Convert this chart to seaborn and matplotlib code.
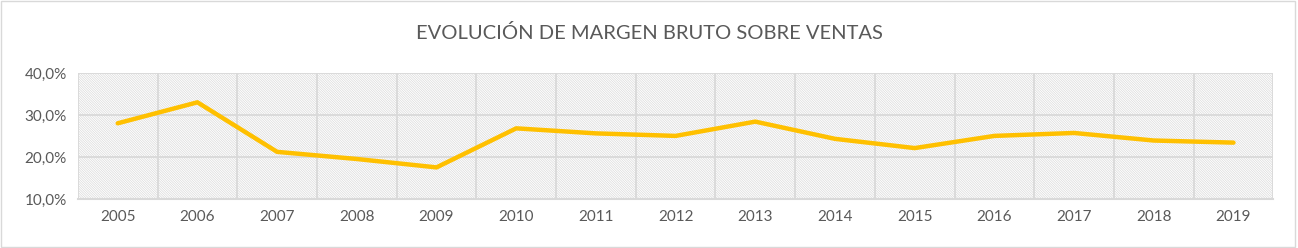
import matplotlib
matplotlib.use("Agg")
import matplotlib.pyplot as plt
import seaborn as sns
import pandas as pd
from matplotlib.patches import Rectangle
from matplotlib.ticker import FuncFormatter, FixedLocator

years = ["2005", "2006", "2007", "2008", "2009", "2010", "2011", "2012",
         "2013", "2014", "2015", "2016", "2017", "2018", "2019"]
margin = [28.0, 33.0, 21.2, 19.5, 17.5, 26.8, 25.6, 25.0,
          28.4, 24.3, 22.1, 25.0, 25.7, 23.9, 23.4]
title = "EVOLUCIÓN DE MARGEN BRUTO SOBRE VENTAS"

sns.set_theme(style="white")
plt.rcParams["font.family"] = ["Lato", "DejaVu Sans"]
plt.rcParams["hatch.linewidth"] = 0.5
plt.rcParams["hatch.color"] = "#dadada"

df = pd.DataFrame({"year": years, "margin": margin})

fig = plt.figure(figsize=(12.98, 2.48), dpi=100)
fig.patch.set_facecolor("white")
fig.patches.append(Rectangle((0.001, 0.004), 0.997, 0.992, transform=fig.transFigure,
                             fill=False, edgecolor="#d9d9d9", linewidth=1.0))
ax = fig.add_axes([0.060, 0.198, 0.921, 0.508])

ax.add_patch(Rectangle((0, 0), 1, 1, transform=ax.transAxes, facecolor="white",
                       edgecolor="#dadada", hatch="\\" * 14, linewidth=0, zorder=0))

sns.lineplot(data=df, x="year", y="margin", sort=False, ax=ax,
             color="#FFC000", linewidth=3.2, zorder=3)

ax.set_ylim(10, 40)
ax.set_xlim(-0.5, len(years) - 0.5)
ax.set_yticks([10, 20, 30, 40])
ax.yaxis.set_major_formatter(FuncFormatter(lambda v, p: f"{v:.1f}%".replace(".", ",")))
ax.xaxis.set_minor_locator(FixedLocator([i - 0.5 for i in range(len(years) + 1)]))
ax.grid(axis="y", which="major", color="#d9d9d9", linewidth=1.3, zorder=1)
ax.grid(axis="x", which="minor", color="#d9d9d9", linewidth=1.3, zorder=1)
ax.set_axisbelow(True)
ax.tick_params(axis="both", which="both", length=0, labelsize=11, colors="#595959", pad=8)
ax.set_xlabel("")
ax.set_ylabel("")
for s in ["top", "right", "left"]:
    ax.spines[s].set_visible(False)
ax.spines["bottom"].set_color("#d9d9d9")
ax.spines["bottom"].set_linewidth(1.5)

fig.text(0.5, 0.865, title, ha="center", va="center", fontsize=14.5, color="#595959")

fig.savefig("out.png", dpi=100, facecolor="white")
